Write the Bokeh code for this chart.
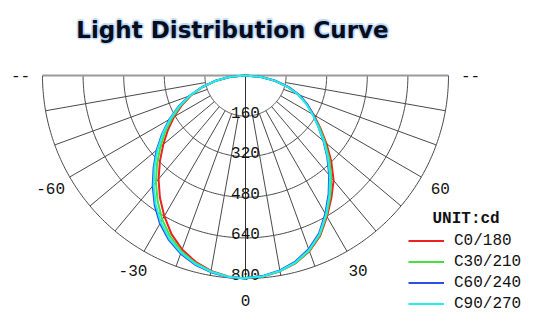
import numpy as np
from bokeh.plotting import figure
from bokeh.models import Range1d, Label, Legend, LegendItem, ColumnDataSource
from bokeh.core.properties import value
from bokeh.embed import file_html
from bokeh.resources import INLINE

# ---------------- data ----------------
angles = [0, 5, 10, 15, 20, 25, 30, 35, 40, 45, 50, 55, 60, 65, 70, 75, 80, 85, 90]

# left half of each C-plane pair (C180, C210, C240, C270), cd
c180 = [800, 795, 782, 760, 730, 690, 640, 588, 533, 477, 423, 373, 325, 277, 228, 175, 118, 59, 0]
c210 = [800, 796, 784, 765, 738, 701, 656, 604, 549, 493, 438, 386, 334, 283, 231, 176, 119, 60, 0]
c240 = [800, 797, 787, 771, 747, 715, 674, 624, 569, 512, 457, 401, 347, 292, 236, 179, 120, 60, 0]
c270 = [800, 796, 785, 768, 743, 710, 668, 618, 563, 507, 452, 397, 343, 289, 234, 177, 119, 60, 0]

# right half (C0, C30, C60, C90), cd
c0 = [798, 794, 783, 765, 737, 697, 642, 590, 540, 478, 416, 360, 311, 267, 222, 171, 115, 57, 0]
c30 = [798, 794, 783, 764, 735, 693, 638, 582, 526, 467, 409, 355, 307, 265, 222, 172, 116, 58, 0]
c60 = [798, 793, 780, 759, 728, 686, 629, 571, 513, 456, 401, 350, 307, 268, 227, 177, 119, 59, 0]
c90 = [798, 794, 782, 762, 732, 690, 634, 576, 518, 460, 403, 350, 304, 264, 222, 172, 116, 58, 0]

series_names = ["C0/180", "C30/210", "C60/240", "C90/270"]
series_right = [c0, c30, c60, c90]
series_left = [c180, c210, c240, c270]
series_colors = ["#ee2020", "#44e044", "#2a50e8", "#22eeee"]

rings = [160, 320, 480, 640, 800]
ring_labels = ["160", "320", "480", "640", "800"]
spoke_angles = [-80, -70, -60, -50, -40, -30, -20, -10, 10, 20, 30, 40, 50, 60, 70, 80]
angle_ticks = [-90, -60, -30, 0, 30, 60, 90]
angle_tick_labels = ["--", "-60", "-30", "0", "30", "60", "--"]

title_text = "Light Distribution Curve"
unit_text = "UNIT:cd"

# ---------------- layout ----------------
W, H = 555, 330
CX, CY = 245, 75          # pole position in pixels (from top-left)
R_PX = 203                # pixel radius of outer ring
k = R_PX / max(rings)     # px per cd

p = figure(width=W, height=H, output_backend="svg", toolbar_location=None,
           x_axis_type=None, y_axis_type=None, min_border=0,
           x_range=Range1d(-CX / k, (W - CX) / k),
           y_range=Range1d(-(H - CY) / k, CY / k))
p.grid.visible = False
p.outline_line_color = None
p.background_fill_color = "white"
p.border_fill_color = "white"

mono = value("Liberation Mono")
grid_col = "#4a4a4a"

# rings (lower semicircles)
t = np.linspace(np.pi, 2 * np.pi, 200)
p.multi_line(xs=[list(r * np.cos(t)) for r in rings],
             ys=[list(r * np.sin(t)) for r in rings],
             line_color=grid_col, line_width=1)

# spokes from first ring outwards
rin, rout = rings[0], rings[-1]
sx0 = [rin * np.sin(np.radians(a)) for a in spoke_angles]
sy0 = [-rin * np.cos(np.radians(a)) for a in spoke_angles]
sx1 = [rout * np.sin(np.radians(a)) for a in spoke_angles]
sy1 = [-rout * np.cos(np.radians(a)) for a in spoke_angles]
p.segment(x0=sx0, y0=sy0, x1=sx1, y1=sy1, line_color=grid_col, line_width=1)
# nadir line
p.segment(x0=[0], y0=[0], x1=[0], y1=[-rout], line_color="#303030", line_width=1)
# horizontal 90 line
p.segment(x0=[-rout], y0=[0], x1=[rout], y1=[0], line_color="#9a9a9a", line_width=2)

# ring labels
p.text(x=[0] * len(rings), y=[-r for r in rings], text=ring_labels,
       text_font=mono, text_font_size="16px", text_color="#111111",
       text_align="center", text_baseline="middle", y_offset=-4)

# angle labels
RL = 225 / k
p.text(x=[RL * np.sin(np.radians(a)) for a in angle_ticks],
       y=[-RL * np.cos(np.radians(a)) for a in angle_ticks],
       text=angle_tick_labels, text_font=mono, text_font_size="16px",
       text_color="#111111", text_align="center", text_baseline="middle")

# curves
items = []
for name, left, right, col in zip(series_names, series_left, series_right, series_colors):
    th = np.radians(angles)
    xl = [-r * np.sin(a) for r, a in zip(left, th)][::-1]
    yl = [-r * np.cos(a) for r, a in zip(left, th)][::-1]
    xr = [r * np.sin(a) for r, a in zip(right, th)]
    yr = [-r * np.cos(a) for r, a in zip(right, th)]
    src = ColumnDataSource(dict(x=xl + xr, y=yl + yr))
    rr = p.line("x", "y", source=src, line_color=col, line_width=2, line_join="round")
    items.append(LegendItem(label=name, renderers=[rr]))

legend = Legend(items=items, location=(408, 16), orientation="vertical",
                background_fill_alpha=0, border_line_alpha=0,
                padding=0, margin=0, spacing=0,
                glyph_width=36, glyph_height=21, label_height=21,
                label_standoff=10, label_text_font="Liberation Mono",
                label_text_font_size="16px", label_text_color="#111111")
p.add_layout(legend)

# unit caption
p.add_layout(Label(x=432, y=H - 218, x_units="screen", y_units="screen",
                   text=unit_text, text_font="Liberation Mono", text_font_size="16px",
                   text_font_style="bold", text_color="#111111",
                   text_align="left", text_baseline="middle"))

# title with a soft blue glow
TX, TY = 232, H - 29
for dx, dy in [(-2, 0), (2, 0), (0, -2), (0, 2), (-1.5, -1.5), (1.5, 1.5), (-1.5, 1.5), (1.5, -1.5)]:
    p.add_layout(Label(x=TX + dx, y=TY + dy, x_units="screen", y_units="screen",
                       text=title_text, text_font="DejaVu Sans", text_font_size="23px",
                       text_font_style="bold", text_color="#6aaef5", text_alpha=0.2,
                       text_align="center", text_baseline="alphabetic"))
p.add_layout(Label(x=TX, y=TY, x_units="screen", y_units="screen",
                   text=title_text, text_font="DejaVu Sans", text_font_size="23px",
                   text_font_style="bold", text_color="#0c0c18",
                   text_align="center", text_baseline="alphabetic"))

open("out.html", "w").write(file_html(p, INLINE))
